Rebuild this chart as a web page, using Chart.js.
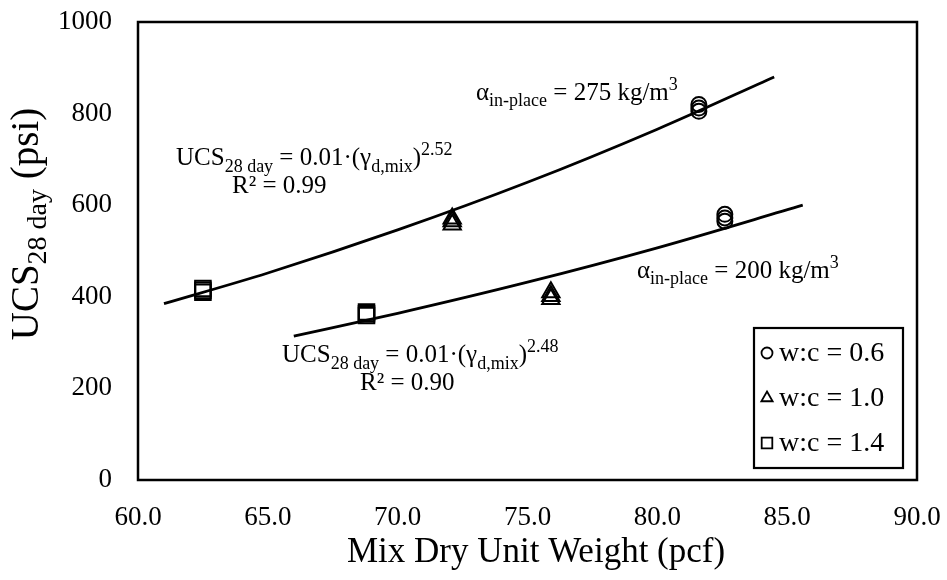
<!DOCTYPE html>
<html><head><meta charset="utf-8">
<script src="https://cdn.jsdelivr.net/npm/chart.js@4"></script>
<style>html,body{margin:0;padding:0;background:#fff}#wrap{width:947px;height:580px}</style>
</head><body><div id="wrap"><canvas id="c" width="947" height="580"></canvas></div>
<script>
// ---- data ----
const xTickValues = [60, 65, 70, 75, 80, 85, 90];
const yTickValues = [0, 200, 400, 600, 800, 1000];
const circleX = [81.6, 81.6, 81.6, 82.6, 82.6, 82.6];
const circleY = [805, 812, 820, 565, 572, 580];
const triangleX = [72.1, 72.1, 72.1, 75.9, 75.9, 75.9];
const triangleY = [558, 565, 571, 395, 402, 410];
const squareX = [62.5, 62.5, 62.5, 68.8, 68.8, 68.8];
const squareY = [410, 414, 418, 359, 363, 367];
const fitUpperX = [61, 65, 70, 75, 80, 84.5];
const fitUpperY = [385, 452, 546, 650, 766, 880];
const fitLowerX = [66, 70, 75, 80, 85.6];
const fitLowerY = [314, 364, 432, 507, 600];
const legendLabels = ['w:c = 0.6', 'w:c = 1.0', 'w:c = 1.4'];
const legendStyles = ['circle', 'triangle', 'rect'];

const FONT = "'Liberation Serif','Times New Roman',serif";
const pts = (xs, ys) => xs.map((x, i) => ({x: x, y: ys[i]}));

function rich(ctx, x, y, parts, align) {
  let w = 0;
  parts.forEach(p => { ctx.font = p[1] + 'px ' + FONT; w += ctx.measureText(p[0]).width; });
  let cx = align === 'center' ? x - w / 2 : x;
  ctx.textAlign = 'left'; ctx.textBaseline = 'alphabetic';
  parts.forEach(p => { ctx.font = p[1] + 'px ' + FONT; ctx.fillText(p[0], cx, y + (p[2] || 0)); cx += ctx.measureText(p[0]).width; });
  return w;
}
function marker(ctx, style, x, y, r) {
  ctx.beginPath();
  if (style === 'circle') ctx.arc(x, y, r, 0, Math.PI * 2);
  else if (style === 'triangle') {
    for (let k = 0; k < 3; k++) {
      const a = -Math.PI / 2 + k * 2 * Math.PI / 3;
      const px = x + Math.cos(a) * r, py = y + Math.sin(a) * r;
      k ? ctx.lineTo(px, py) : ctx.moveTo(px, py);
    }
    ctx.closePath();
  } else ctx.rect(x - r * 0.707, y - r * 0.707, r * 1.414, r * 1.414);
  ctx.stroke();
}

const deco = {
  id: 'deco',
  afterDraw(chart) {
    const ctx = chart.ctx, a = chart.chartArea;
    ctx.save();
    ctx.strokeStyle = '#000'; ctx.fillStyle = '#000';
    ctx.lineWidth = 2.5;
    ctx.strokeRect(a.left, a.top, a.right - a.left, a.bottom - a.top);
    // annotations
    rich(ctx, 476, 100, [['α', 25], ['in-place', 18, 6], [' = 275 kg/m', 25], ['3', 18, -10]]);
    rich(ctx, 637, 278, [['α', 25], ['in-place', 18, 6], [' = 200 kg/m', 25], ['3', 18, -10]]);
    rich(ctx, 176, 165, [['UCS', 25], ['28 day', 18, 7], [' = 0.01·(', 25], ['γ', 25], ['d,mix', 18, 7], [')', 25], ['2.52', 18, -10]]);
    rich(ctx, 232, 193, [['R² = 0.99', 25]]);
    rich(ctx, 282, 362, [['UCS', 25], ['28 day', 18, 7], [' = 0.01·(', 25], ['γ', 25], ['d,mix', 18, 7], [')', 25], ['2.48', 18, -10]]);
    rich(ctx, 360, 390, [['R² = 0.90', 25]]);
    // axis titles
    rich(ctx, 536, 562, [['Mix Dry Unit Weight (pcf)', 35]], 'center');
    ctx.save();
    ctx.translate(38, 224);
    ctx.rotate(-Math.PI / 2);
    rich(ctx, 0, 0, [['UCS', 39], ['28 day', 28, 8], [' (psi)', 39]], 'center');
    ctx.restore();
    // legend
    ctx.lineWidth = 2.2;
    ctx.strokeRect(754, 328, 149, 140);
    ctx.lineWidth = 1.8;
    const rows = [353, 398, 443];
    legendLabels.forEach((t, i) => {
      marker(ctx, legendStyles[i], 767, rows[i], legendStyles[i] === 'triangle' ? 6.5 : (legendStyles[i] === 'rect' ? 7.5 : 5.5));
      ctx.font = '28px ' + FONT; ctx.textAlign = 'left'; ctx.textBaseline = 'middle';
      ctx.fillText(t, 779, rows[i] + 1);
    });
    ctx.restore();
  }
};

const common = {type: 'scatter', showLine: false, borderColor: '#000', backgroundColor: 'rgba(0,0,0,0)', pointBorderWidth: 2};
new Chart(document.getElementById('c'), {
  type: 'scatter',
  data: {
    datasets: [
      {type: 'line', data: pts(fitUpperX, fitUpperY), borderColor: '#000', borderWidth: 2.8, pointRadius: 0, cubicInterpolationMode: 'monotone', fill: false},
      {type: 'line', data: pts(fitLowerX, fitLowerY), borderColor: '#000', borderWidth: 2.8, pointRadius: 0, cubicInterpolationMode: 'monotone', fill: false},
      Object.assign({data: pts(circleX, circleY), pointStyle: 'circle', pointRadius: 7.5}, common),
      Object.assign({data: pts(triangleX, triangleY), pointStyle: 'triangle', pointRadius: 10}, common),
      Object.assign({data: pts(squareX, squareY), pointStyle: 'rect', pointRadius: 11}, common)
    ]
  },
  options: {
    responsive: false, animation: false, devicePixelRatio: 1,
    layout: {padding: {top: 22, right: 30, left: 0, bottom: 0}},
    plugins: {legend: {display: false}, tooltip: {enabled: false}},
    scales: {
      x: {
        type: 'linear', min: 60, max: 90,
        afterBuildTicks: s => { s.ticks = xTickValues.map(v => ({value: v})); },
        afterFit: s => { s.height = 100; s.paddingLeft = 0; s.paddingRight = 0; },
        grid: {display: false, drawTicks: false}, border: {display: false},
        ticks: {color: '#000', font: {family: FONT, size: 27}, padding: 22, maxRotation: 0, callback: v => Number(v).toFixed(1)}
      },
      y: {
        type: 'linear', min: 0, max: 1000,
        afterBuildTicks: s => { s.ticks = yTickValues.map(v => ({value: v})); },
        afterFit: s => { s.width = 138; s.paddingTop = 0; s.paddingBottom = 0; },
        grid: {display: false, drawTicks: false}, border: {display: false},
        ticks: {color: '#000', font: {family: FONT, size: 27}, padding: 26, callback: v => String(v)}
      }
    }
  },
  plugins: [deco]
});
</script></body></html>
